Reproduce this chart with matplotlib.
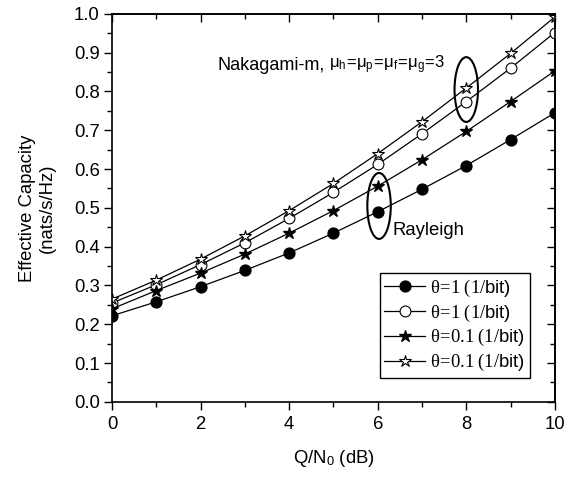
import matplotlib
matplotlib.use("Agg")
import matplotlib.pyplot as plt
from matplotlib.patches import Ellipse
from matplotlib.ticker import MultipleLocator

plt.rcParams['font.family'] = ['Liberation Sans', 'DejaVu Sans']
plt.rcParams['mathtext.fontset'] = 'custom'
plt.rcParams['mathtext.rm'] = 'Liberation Serif'
plt.rcParams['mathtext.it'] = 'Liberation Serif:italic'
plt.rcParams['mathtext.sf'] = 'Liberation Sans'

# Q/N0 in dB
snr_db = [0, 1, 2, 3, 4, 5, 6, 7, 8, 9, 10]

# Rayleigh
ray_theta1 = [0.222, 0.258, 0.297, 0.339, 0.384, 0.435, 0.490, 0.548, 0.609, 0.676, 0.745]
ray_theta01 = [0.240, 0.287, 0.332, 0.381, 0.435, 0.493, 0.556, 0.624, 0.697, 0.774, 0.853]
# Nakagami-m
nak_theta1 = [0.255, 0.302, 0.354, 0.410, 0.473, 0.540, 0.612, 0.691, 0.774, 0.860, 0.952]
nak_theta01 = [0.265, 0.314, 0.368, 0.428, 0.493, 0.563, 0.640, 0.722, 0.809, 0.898, 0.992]

labels = [r'$\mathrm{\theta\!=\!1\ (1/}$bit)', r'$\mathrm{\theta\!=\!1\ (1/}$bit)',
          r'$\mathrm{\theta\!=\!0.1\ (1/}$bit)', r'$\mathrm{\theta\!=\!0.1\ (1/}$bit)']

fs = 13.3

fig = plt.figure(figsize=(5.84, 4.79), dpi=100)
ax = fig.add_axes([0.192, 0.161, 0.758, 0.810])

lw = 0.9
ax.plot(snr_db, ray_theta1, color='k', lw=lw, marker='o', ms=7.8, mfc='k', mec='k', label=labels[0])
ax.plot(snr_db, nak_theta1, color='k', lw=lw, marker='o', ms=7.8, mfc='white', mec='k', mew=0.8, label=labels[1])
ax.plot(snr_db, ray_theta01, color='k', lw=lw, marker='*', ms=9, mfc='k', mec='k', label=labels[2])
ax.plot(snr_db, nak_theta01, color='k', lw=lw, marker='*', ms=9, mfc='white', mec='k', mew=0.8, label=labels[3])

# ellipses marking groups
ax.add_patch(Ellipse((8.0, 0.805), 0.53, 0.167, fill=False, ec='k', lw=1.5, zorder=5))
ax.add_patch(Ellipse((6.03, 0.505), 0.53, 0.17, fill=False, ec='k', lw=1.5, zorder=5))

t = ax.text(2.39, 0.855, 'Nakagami-m,', fontsize=13, va='baseline', ha='left')
ax.annotate(r'$\mathsf{\mu_h\!=\!\mu_p\!=\!\mu_f\!=\!\mu_g\!=\!3}$', xy=(1, 0), xycoords=t,
            xytext=(3, -1), textcoords='offset points', fontsize=12,
            va='bottom', ha='left')
ax.text(6.34, 0.443, 'Rayleigh', fontsize=fs, va='center', ha='left')

ax.set_xlim(0, 10)
ax.set_ylim(0, 1.0)
ax.xaxis.set_major_locator(MultipleLocator(2))
ax.xaxis.set_minor_locator(MultipleLocator(1))
ax.yaxis.set_major_locator(MultipleLocator(0.1))
ax.yaxis.set_minor_locator(MultipleLocator(0.05))
ax.tick_params(which='both', direction='out', labelsize=fs, width=1.0)
ax.tick_params(which='major', length=6)
ax.tick_params(which='minor', length=3.5)
ax.tick_params(axis='x', pad=4)
ax.tick_params(axis='y', pad=3)
for s in ax.spines.values():
    s.set_linewidth(1.2)

# inward ticks on top and right
top = ax.secondary_xaxis('top')
top.xaxis.set_major_locator(MultipleLocator(2))
top.xaxis.set_minor_locator(MultipleLocator(1))
top.tick_params(which='both', direction='in', labeltop=False, width=1.0)
top.tick_params(which='major', length=6)
top.tick_params(which='minor', length=3.5)
top.spines['top'].set_linewidth(1.2)
right = ax.secondary_yaxis('right')
right.yaxis.set_major_locator(MultipleLocator(0.1))
right.yaxis.set_minor_locator(MultipleLocator(0.05))
right.tick_params(which='both', direction='in', labelright=False, width=1.0)
right.tick_params(which='major', length=6)
right.tick_params(which='minor', length=3.5)
right.spines['right'].set_linewidth(1.2)

ax.set_xlabel(r'Q/N$_\mathsf{0}$ (dB)', fontsize=fs, labelpad=11)
ax.set_ylabel('Effective Capacity\n(nats/s/Hz)', fontsize=fs, labelpad=13)

leg = ax.legend(loc='lower right', bbox_to_anchor=(0.944, 0.062), fontsize=fs,
                fancybox=False, framealpha=1, edgecolor='k', handlelength=2.2,
                borderpad=0.25, labelspacing=0.2, handletextpad=0.3, borderaxespad=0)
leg.get_frame().set_linewidth(1.0)

fig.savefig('out.png', dpi=100)
